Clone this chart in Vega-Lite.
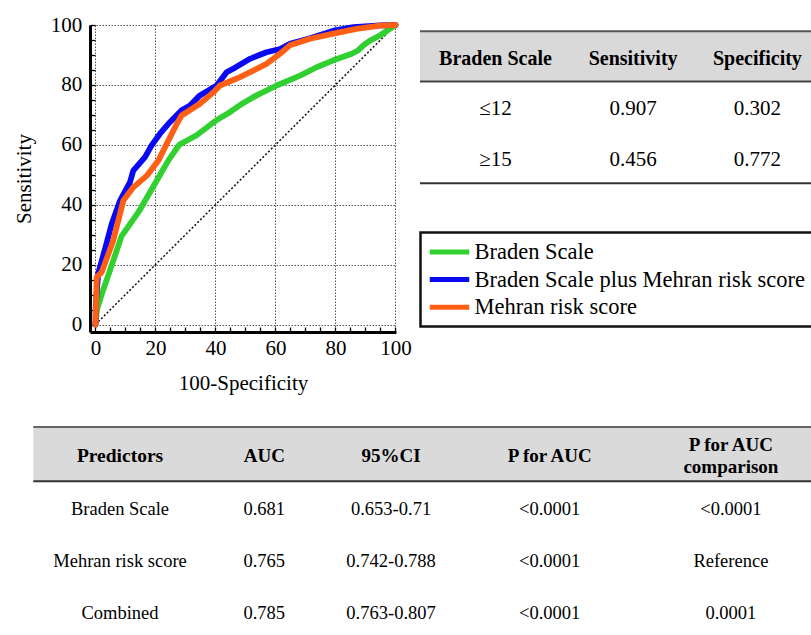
{
  "$schema": "https://vega.github.io/schema/vega-lite/v6.json",
  "padding": {"left": 13, "top": 14, "right": 0, "bottom": 0},
  "background": "white",
  "config": {
    "view": {"stroke": null},
    "font": "Liberation Serif",
    "legend": {"strokeWidth": 2.5}
  },
  "datasets": {
    "roc": [
      {"model": "Braden Scale", "fpr": 0, "tpr": 0},
      {"model": "Braden Scale", "fpr": 0.5, "tpr": 5},
      {"model": "Braden Scale", "fpr": 2.1, "tpr": 10.2},
      {"model": "Braden Scale", "fpr": 4.8, "tpr": 18},
      {"model": "Braden Scale", "fpr": 8.7, "tpr": 29.5},
      {"model": "Braden Scale", "fpr": 14.3, "tpr": 37.5},
      {"model": "Braden Scale", "fpr": 19.8, "tpr": 47},
      {"model": "Braden Scale", "fpr": 24.3, "tpr": 54.8},
      {"model": "Braden Scale", "fpr": 27.9, "tpr": 60},
      {"model": "Braden Scale", "fpr": 33.7, "tpr": 63.2},
      {"model": "Braden Scale", "fpr": 40.4, "tpr": 68.3},
      {"model": "Braden Scale", "fpr": 44.8, "tpr": 70.9},
      {"model": "Braden Scale", "fpr": 49, "tpr": 73.8},
      {"model": "Braden Scale", "fpr": 53.7, "tpr": 76.5},
      {"model": "Braden Scale", "fpr": 60.4, "tpr": 79.8},
      {"model": "Braden Scale", "fpr": 68.2, "tpr": 83.1},
      {"model": "Braden Scale", "fpr": 73.7, "tpr": 85.9},
      {"model": "Braden Scale", "fpr": 79.3, "tpr": 88.2},
      {"model": "Braden Scale", "fpr": 85.4, "tpr": 90.4},
      {"model": "Braden Scale", "fpr": 87.5, "tpr": 91.5},
      {"model": "Braden Scale", "fpr": 89.3, "tpr": 93.2},
      {"model": "Braden Scale", "fpr": 91.5, "tpr": 94.8},
      {"model": "Braden Scale", "fpr": 94.8, "tpr": 96.5},
      {"model": "Braden Scale", "fpr": 100, "tpr": 100},
      {"model": "Braden Scale plus Mehran risk score", "fpr": 0, "tpr": 0},
      {"model": "Braden Scale plus Mehran risk score", "fpr": 0.1, "tpr": 6},
      {"model": "Braden Scale plus Mehran risk score", "fpr": 0.5, "tpr": 12},
      {"model": "Braden Scale plus Mehran risk score", "fpr": 0.9, "tpr": 17},
      {"model": "Braden Scale plus Mehran risk score", "fpr": 3.2, "tpr": 25.3},
      {"model": "Braden Scale plus Mehran risk score", "fpr": 5.4, "tpr": 33.6},
      {"model": "Braden Scale plus Mehran risk score", "fpr": 8.2, "tpr": 41.4},
      {"model": "Braden Scale plus Mehran risk score", "fpr": 11.5, "tpr": 47.5},
      {"model": "Braden Scale plus Mehran risk score", "fpr": 12.6, "tpr": 51.4},
      {"model": "Braden Scale plus Mehran risk score", "fpr": 16.5, "tpr": 55.9},
      {"model": "Braden Scale plus Mehran risk score", "fpr": 18.7, "tpr": 59.8},
      {"model": "Braden Scale plus Mehran risk score", "fpr": 21.5, "tpr": 63.7},
      {"model": "Braden Scale plus Mehran risk score", "fpr": 24.3, "tpr": 67},
      {"model": "Braden Scale plus Mehran risk score", "fpr": 28.7, "tpr": 71.5},
      {"model": "Braden Scale plus Mehran risk score", "fpr": 31.5, "tpr": 73.1},
      {"model": "Braden Scale plus Mehran risk score", "fpr": 34.8, "tpr": 76.5},
      {"model": "Braden Scale plus Mehran risk score", "fpr": 40.4, "tpr": 79.8},
      {"model": "Braden Scale plus Mehran risk score", "fpr": 43.7, "tpr": 84.2},
      {"model": "Braden Scale plus Mehran risk score", "fpr": 45.9, "tpr": 85.4},
      {"model": "Braden Scale plus Mehran risk score", "fpr": 51.5, "tpr": 88.7},
      {"model": "Braden Scale plus Mehran risk score", "fpr": 57, "tpr": 90.9},
      {"model": "Braden Scale plus Mehran risk score", "fpr": 61.5, "tpr": 92},
      {"model": "Braden Scale plus Mehran risk score", "fpr": 64.8, "tpr": 93.7},
      {"model": "Braden Scale plus Mehran risk score", "fpr": 71.5, "tpr": 95.6},
      {"model": "Braden Scale plus Mehran risk score", "fpr": 79.3, "tpr": 98.1},
      {"model": "Braden Scale plus Mehran risk score", "fpr": 86, "tpr": 99.3},
      {"model": "Braden Scale plus Mehran risk score", "fpr": 94.8, "tpr": 99.9},
      {"model": "Braden Scale plus Mehran risk score", "fpr": 100, "tpr": 100},
      {"model": "Mehran risk score", "fpr": 0, "tpr": 0},
      {"model": "Mehran risk score", "fpr": 0.4, "tpr": 15.8},
      {"model": "Mehran risk score", "fpr": 2.1, "tpr": 17.5},
      {"model": "Mehran risk score", "fpr": 5.9, "tpr": 28},
      {"model": "Mehran risk score", "fpr": 9.3, "tpr": 41.4},
      {"model": "Mehran risk score", "fpr": 12.6, "tpr": 45.8},
      {"model": "Mehran risk score", "fpr": 17.1, "tpr": 49.7},
      {"model": "Mehran risk score", "fpr": 21, "tpr": 54.8},
      {"model": "Mehran risk score", "fpr": 23.7, "tpr": 60.3},
      {"model": "Mehran risk score", "fpr": 27.1, "tpr": 67},
      {"model": "Mehran risk score", "fpr": 28.7, "tpr": 69.8},
      {"model": "Mehran risk score", "fpr": 34.8, "tpr": 73.7},
      {"model": "Mehran risk score", "fpr": 39.3, "tpr": 77.5},
      {"model": "Mehran risk score", "fpr": 41.5, "tpr": 79.8},
      {"model": "Mehran risk score", "fpr": 48.2, "tpr": 82.6},
      {"model": "Mehran risk score", "fpr": 57, "tpr": 87},
      {"model": "Mehran risk score", "fpr": 61.5, "tpr": 90.4},
      {"model": "Mehran risk score", "fpr": 64.8, "tpr": 93.2},
      {"model": "Mehran risk score", "fpr": 71.5, "tpr": 95.4},
      {"model": "Mehran risk score", "fpr": 79.3, "tpr": 97.1},
      {"model": "Mehran risk score", "fpr": 87, "tpr": 98.7},
      {"model": "Mehran risk score", "fpr": 94.8, "tpr": 99.8},
      {"model": "Mehran risk score", "fpr": 100, "tpr": 100}
    ],
    "cutoffs": [
      {"row": 1, "Braden": "≤12", "Sensitivity": "0.907", "Specificity": "0.302"},
      {"row": 2, "Braden": "≥15", "Sensitivity": "0.456", "Specificity": "0.772"}
    ],
    "auc": [
      {"row": 1, "Predictors": "Braden Scale", "AUC": "0.681", "CI": "0.653-0.71", "P": "<0.0001", "Pcomp": "<0.0001"},
      {"row": 2, "Predictors": "Mehran risk score", "AUC": "0.765", "CI": "0.742-0.788", "P": "<0.0001", "Pcomp": "Reference"},
      {"row": 3, "Predictors": "Combined", "AUC": "0.785", "CI": "0.763-0.807", "P": "<0.0001", "Pcomp": "0.0001"}
    ]
  },
  "bounds": "flush",
  "spacing": 402,
  "vconcat": [
    {
      "bounds": "flush",
      "spacing": 24,
      "hconcat": [
        {
          "width": 306,
          "height": 307,
          "encoding": {
            "x": {
              "field": "fpr", "type": "quantitative",
              "scale": {"domain": [-1.83, 100.17], "nice": false, "zero": false},
              "axis": {
                "title": "100-Specificity",
                "values": [0,5,10,15,20,25,30,35,40,45,50,55,60,65,70,75,80,85,90,95,100],
                "labelExpr": "datum.value % 20 === 0 ? datum.label : ''",
                "labelOverlap": false, "labelFlush": false,
                "grid": true, "gridColor": "#555", "gridDash": [1.5, 1.5], "gridWidth": 1,
                "gridOpacity": {"condition": {"test": "datum.value % 20 === 0", "value": 1}, "value": 0},
                "domainColor": "#000", "domainWidth": 3,
                "tickColor": "#000", "tickSize": -5, "tickWidth": 1.3,
                "labelFont": "Liberation Serif", "labelFontSize": 21, "labelColor": "#000", "labelPadding": 10.5,
                "titleFont": "Liberation Serif", "titleFontSize": 21, "titleFontWeight": "normal", "titleColor": "#000", "titlePadding": 13.5
              }
            },
            "y": {
              "field": "tpr", "type": "quantitative",
              "scale": {"domain": [-2.5, 100], "nice": false, "zero": false},
              "axis": {
                "title": "Sensitivity",
                "values": [0,5,10,15,20,25,30,35,40,45,50,55,60,65,70,75,80,85,90,95,100],
                "labelExpr": "datum.value % 20 === 0 ? datum.label : ''",
                "labelOverlap": false, "labelFlush": false,
                "grid": true, "gridColor": "#555", "gridDash": [1.5, 1.5], "gridWidth": 1,
                "gridOpacity": {"condition": {"test": "datum.value % 20 === 0", "value": 1}, "value": 0},
                "domainColor": "#000", "domainWidth": 3,
                "tickColor": "#000", "tickSize": -5, "tickWidth": 1.3,
                "labelFont": "Liberation Serif", "labelFontSize": 21, "labelColor": "#000", "labelPadding": 13.3,
                "titleFont": "Liberation Serif", "titleFontSize": 21, "titleFontWeight": "normal", "titleColor": "#000", "titlePadding": 16
              }
            }
          },
          "layer": [
            {
              "data": {"values": [{"fpr": 0, "tpr": 0}, {"fpr": 100, "tpr": 100}]},
              "mark": {"type": "line", "color": "#111", "strokeWidth": 1.5, "strokeDash": [2, 2]}
            },
            {
              "data": {"name": "roc"},
              "mark": {"type": "line", "strokeWidth": 5.8, "strokeJoin": "round", "strokeCap": "round"},
              "encoding": {
                "color": {
                  "field": "model", "type": "nominal",
                  "scale": {
                    "domain": ["Braden Scale", "Braden Scale plus Mehran risk score", "Mehran risk score"],
                    "range": ["#2fd02f", "#0a0af2", "#ff5f15"]
                  },
                  "legend": {
                    "orient": "none", "legendX": 330.5, "legendY": 207.5,
                    "title": null,
                    "symbolType": "M-1.05,0H3", "symbolSize": 380, "symbolStrokeWidth": 5,
                    "labelFont": "Liberation Serif", "labelFontSize": 22.5, "labelColor": "#000",
                    "labelOffset": 22, "labelLimit": 0, "rowPadding": 3.6, "padding": 7,
                    "strokeColor": "#111"
                  }
                }
              }
            }
          ]
        },
        {
          "width": 391,
          "height": 307,
          "data": {"name": "cutoffs"},
          "layer": [
            {
              "data": {"values": [{}]},
              "mark": {"type": "rect", "color": "#d9d9d9"},
              "encoding": {
                "x": {"datum": 0, "type": "quantitative", "scale": {"domain": [0, 100], "nice": false, "zero": false}, "axis": null},
                "x2": {"datum": 100},
                "y": {"datum": -0.554, "type": "quantitative", "scale": {"domain": [-0.677, 5.42], "reverse": true, "nice": false, "zero": false}, "axis": null},
                "y2": {"datum": 0.445}
              }
            },
            {
              "data": {"values": [{}]},
              "mark": {"type": "rule", "color": "#555", "strokeWidth": 2},
              "encoding": {
                "x": {"datum": 0, "type": "quantitative", "scale": {"domain": [0, 100], "nice": false, "zero": false}, "axis": null},
                "x2": {"datum": 100},
                "y": {"datum": -0.554, "type": "quantitative", "scale": {"domain": [-0.677, 5.42], "reverse": true, "nice": false, "zero": false}, "axis": null}
              }
            },
            {
              "data": {"values": [{}]},
              "mark": {"type": "rule", "color": "#444", "strokeWidth": 2},
              "encoding": {
                "x": {"datum": 0, "type": "quantitative", "scale": {"domain": [0, 100], "nice": false, "zero": false}, "axis": null},
                "x2": {"datum": 100},
                "y": {"datum": 0.445, "type": "quantitative", "scale": {"domain": [-0.677, 5.42], "reverse": true, "nice": false, "zero": false}, "axis": null}
              }
            },
            {
              "data": {"values": [{}]},
              "mark": {"type": "rule", "color": "#333", "strokeWidth": 2},
              "encoding": {
                "x": {"datum": 0, "type": "quantitative", "scale": {"domain": [0, 100], "nice": false, "zero": false}, "axis": null},
                "x2": {"datum": 100},
                "y": {"datum": 2.465, "type": "quantitative", "scale": {"domain": [-0.677, 5.42], "reverse": true, "nice": false, "zero": false}, "axis": null}
              }
            },
            {
              "data": {"values": [{}]},
              "mark": {"type": "text", "font": "Liberation Serif", "fontSize": 20, "fontWeight": "bold", "color": "#000", "align": "center", "baseline": "middle"},
              "encoding": {
                "x": {"datum": 19.3, "type": "quantitative", "scale": {"domain": [0, 100], "nice": false, "zero": false}, "axis": null},
                "y": {"datum": 0, "type": "quantitative", "scale": {"domain": [-0.677, 5.42], "reverse": true, "nice": false, "zero": false}, "axis": null},
                "text": {"value": "Braden Scale"}
              }
            },
            {
              "data": {"values": [{}]},
              "mark": {"type": "text", "font": "Liberation Serif", "fontSize": 20, "fontWeight": "bold", "color": "#000", "align": "center", "baseline": "middle"},
              "encoding": {
                "x": {"datum": 54.5, "type": "quantitative", "scale": {"domain": [0, 100], "nice": false, "zero": false}, "axis": null},
                "y": {"datum": 0, "type": "quantitative", "scale": {"domain": [-0.677, 5.42], "reverse": true, "nice": false, "zero": false}, "axis": null},
                "text": {"value": "Sensitivity"}
              }
            },
            {
              "data": {"values": [{}]},
              "mark": {"type": "text", "font": "Liberation Serif", "fontSize": 20, "fontWeight": "bold", "color": "#000", "align": "center", "baseline": "middle"},
              "encoding": {
                "x": {"datum": 86.3, "type": "quantitative", "scale": {"domain": [0, 100], "nice": false, "zero": false}, "axis": null},
                "y": {"datum": 0, "type": "quantitative", "scale": {"domain": [-0.677, 5.42], "reverse": true, "nice": false, "zero": false}, "axis": null},
                "text": {"value": "Specificity"}
              }
            },
            {
              "mark": {"type": "text", "font": "Liberation Serif", "fontSize": 21, "color": "#000", "align": "center", "baseline": "middle"},
              "encoding": {
                "x": {"datum": 19.3, "type": "quantitative", "scale": {"domain": [0, 100], "nice": false, "zero": false}, "axis": null},
                "y": {"field": "row", "type": "quantitative", "scale": {"domain": [-0.677, 5.42], "reverse": true, "nice": false, "zero": false}, "axis": null},
                "text": {"field": "Braden"}
              }
            },
            {
              "mark": {"type": "text", "font": "Liberation Serif", "fontSize": 21, "color": "#000", "align": "center", "baseline": "middle"},
              "encoding": {
                "x": {"datum": 54.5, "type": "quantitative", "scale": {"domain": [0, 100], "nice": false, "zero": false}, "axis": null},
                "y": {"field": "row", "type": "quantitative", "scale": {"domain": [-0.677, 5.42], "reverse": true, "nice": false, "zero": false}, "axis": null},
                "text": {"field": "Sensitivity"}
              }
            },
            {
              "mark": {"type": "text", "font": "Liberation Serif", "fontSize": 21, "color": "#000", "align": "center", "baseline": "middle"},
              "encoding": {
                "x": {"datum": 86.3, "type": "quantitative", "scale": {"domain": [0, 100], "nice": false, "zero": false}, "axis": null},
                "y": {"field": "row", "type": "quantitative", "scale": {"domain": [-0.677, 5.42], "reverse": true, "nice": false, "zero": false}, "axis": null},
                "text": {"field": "Specificity"}
              }
            }
          ]
        }
      ]
    },
    {
      "width": 721,
      "height": 208,
      "data": {"name": "auc"},
      "layer": [
        {
          "data": {"values": [{}]},
          "mark": {"type": "rect", "color": "#dadada"},
          "encoding": {
            "x": {"datum": 0, "type": "quantitative", "scale": {"domain": [7.29, 100], "nice": false, "zero": false}, "axis": null},
            "x2": {"datum": 100},
            "y": {"datum": -0.56, "type": "quantitative", "scale": {"domain": [-0.56, 3.42], "reverse": true, "nice": false, "zero": false}, "axis": null},
            "y2": {"datum": 0.478}
          }
        },
        {
          "data": {"values": [{}]},
          "mark": {"type": "rule", "color": "#666", "strokeWidth": 2},
          "encoding": {
            "x": {"datum": 0, "type": "quantitative", "scale": {"domain": [7.29, 100], "nice": false, "zero": false}, "axis": null},
            "x2": {"datum": 100},
            "y": {"datum": -0.56, "type": "quantitative", "scale": {"domain": [-0.56, 3.42], "reverse": true, "nice": false, "zero": false}, "axis": null}
          }
        },
        {
          "data": {"values": [{}]},
          "mark": {"type": "rule", "color": "#333", "strokeWidth": 2},
          "encoding": {
            "x": {"datum": 0, "type": "quantitative", "scale": {"domain": [7.29, 100], "nice": false, "zero": false}, "axis": null},
            "x2": {"datum": 100},
            "y": {"datum": 0.478, "type": "quantitative", "scale": {"domain": [-0.56, 3.42], "reverse": true, "nice": false, "zero": false}, "axis": null}
          }
        },
        {
          "data": {"values": [{}]},
          "mark": {"type": "text", "font": "Liberation Serif", "fontSize": 19.5, "fontWeight": "bold", "color": "#000", "align": "center", "baseline": "middle"},
          "encoding": {
            "x": {"datum": 11.15, "type": "quantitative", "scale": {"domain": [7.29, 100], "nice": false, "zero": false}, "axis": null},
            "y": {"datum": 0, "type": "quantitative", "scale": {"domain": [-0.56, 3.42], "reverse": true, "nice": false, "zero": false}, "axis": null},
            "text": {"value": "Predictors"}
          }
        },
        {
          "data": {"values": [{}]},
          "mark": {"type": "text", "font": "Liberation Serif", "fontSize": 19, "fontWeight": "bold", "color": "#000", "align": "center", "baseline": "middle"},
          "encoding": {
            "x": {"datum": 29.7, "type": "quantitative", "scale": {"domain": [7.29, 100], "nice": false, "zero": false}, "axis": null},
            "y": {"datum": 0, "type": "quantitative", "scale": {"domain": [-0.56, 3.42], "reverse": true, "nice": false, "zero": false}, "axis": null},
            "text": {"value": "AUC"}
          }
        },
        {
          "data": {"values": [{}]},
          "mark": {"type": "text", "font": "Liberation Serif", "fontSize": 19, "fontWeight": "bold", "color": "#000", "align": "center", "baseline": "middle"},
          "encoding": {
            "x": {"datum": 46.0, "type": "quantitative", "scale": {"domain": [7.29, 100], "nice": false, "zero": false}, "axis": null},
            "y": {"datum": 0, "type": "quantitative", "scale": {"domain": [-0.56, 3.42], "reverse": true, "nice": false, "zero": false}, "axis": null},
            "text": {"value": "95%CI"}
          }
        },
        {
          "data": {"values": [{}]},
          "mark": {"type": "text", "font": "Liberation Serif", "fontSize": 19, "fontWeight": "bold", "color": "#000", "align": "center", "baseline": "middle"},
          "encoding": {
            "x": {"datum": 66.4, "type": "quantitative", "scale": {"domain": [7.29, 100], "nice": false, "zero": false}, "axis": null},
            "y": {"datum": 0, "type": "quantitative", "scale": {"domain": [-0.56, 3.42], "reverse": true, "nice": false, "zero": false}, "axis": null},
            "text": {"value": "P for AUC"}
          }
        },
        {
          "data": {"values": [{}]},
          "mark": {"type": "text", "font": "Liberation Serif", "fontSize": 19, "fontWeight": "bold", "color": "#000", "align": "center", "baseline": "middle", "lineHeight": 21.7, "dy": -10.85},
          "encoding": {
            "x": {"datum": 89.7, "type": "quantitative", "scale": {"domain": [7.29, 100], "nice": false, "zero": false}, "axis": null},
            "y": {"datum": 0, "type": "quantitative", "scale": {"domain": [-0.56, 3.42], "reverse": true, "nice": false, "zero": false}, "axis": null},
            "text": {"value": ["P for AUC", "comparison"]}
          }
        },
        {
          "mark": {"type": "text", "font": "Liberation Serif", "fontSize": 18.5, "color": "#000", "align": "center", "baseline": "middle"},
          "encoding": {
            "x": {"datum": 11.15, "type": "quantitative", "scale": {"domain": [7.29, 100], "nice": false, "zero": false}, "axis": null},
            "y": {"field": "row", "type": "quantitative", "scale": {"domain": [-0.56, 3.42], "reverse": true, "nice": false, "zero": false}, "axis": null},
            "text": {"field": "Predictors"}
          }
        },
        {
          "mark": {"type": "text", "font": "Liberation Serif", "fontSize": 18.5, "color": "#000", "align": "center", "baseline": "middle"},
          "encoding": {
            "x": {"datum": 29.7, "type": "quantitative", "scale": {"domain": [7.29, 100], "nice": false, "zero": false}, "axis": null},
            "y": {"field": "row", "type": "quantitative", "scale": {"domain": [-0.56, 3.42], "reverse": true, "nice": false, "zero": false}, "axis": null},
            "text": {"field": "AUC"}
          }
        },
        {
          "mark": {"type": "text", "font": "Liberation Serif", "fontSize": 18.5, "color": "#000", "align": "center", "baseline": "middle"},
          "encoding": {
            "x": {"datum": 46.0, "type": "quantitative", "scale": {"domain": [7.29, 100], "nice": false, "zero": false}, "axis": null},
            "y": {"field": "row", "type": "quantitative", "scale": {"domain": [-0.56, 3.42], "reverse": true, "nice": false, "zero": false}, "axis": null},
            "text": {"field": "CI"}
          }
        },
        {
          "mark": {"type": "text", "font": "Liberation Serif", "fontSize": 18.5, "color": "#000", "align": "center", "baseline": "middle"},
          "encoding": {
            "x": {"datum": 66.4, "type": "quantitative", "scale": {"domain": [7.29, 100], "nice": false, "zero": false}, "axis": null},
            "y": {"field": "row", "type": "quantitative", "scale": {"domain": [-0.56, 3.42], "reverse": true, "nice": false, "zero": false}, "axis": null},
            "text": {"field": "P"}
          }
        },
        {
          "mark": {"type": "text", "font": "Liberation Serif", "fontSize": 18.5, "color": "#000", "align": "center", "baseline": "middle"},
          "encoding": {
            "x": {"datum": 89.7, "type": "quantitative", "scale": {"domain": [7.29, 100], "nice": false, "zero": false}, "axis": null},
            "y": {"field": "row", "type": "quantitative", "scale": {"domain": [-0.56, 3.42], "reverse": true, "nice": false, "zero": false}, "axis": null},
            "text": {"field": "Pcomp"}
          }
        }
      ]
    }
  ]
}
